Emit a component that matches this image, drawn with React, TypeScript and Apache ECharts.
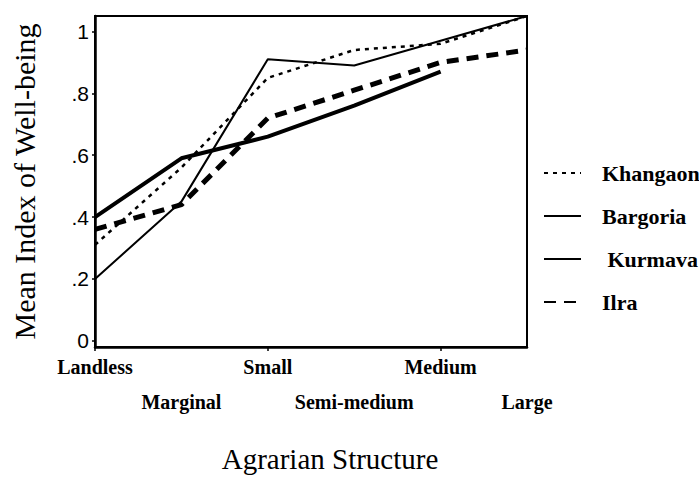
import React, { useEffect, useRef } from "react";
import * as echarts from "echarts";

const categories = ["Landless", "Marginal", "Small", "Semi-medium", "Medium", "Large"];
const khangaon = [0.31, 0.56, 0.85, 0.94, 0.96, 1.05];
const bargoria = [0.4, 0.59, 0.66, 0.76, 0.87, null];
const kurmava = [0.2, 0.45, 0.91, 0.89, 0.97, 1.05];
const ilra = [0.36, 0.44, 0.72, 0.81, 0.9, 0.94];
const yTicks = [0, 0.2, 0.4, 0.6, 0.8, 1];

const serif = "Liberation Serif";
const sans = "Liberation Sans";

export default function App() {
  const ref = useRef<HTMLDivElement>(null);
  useEffect(() => {
    if (!ref.current) return;
    const chart = echarts.init(ref.current, undefined, { renderer: "svg" });
    const mkLine = (name: string, data: (number | null)[], width: number, type: any) => ({
      name,
      type: "line",
      data,
      symbol: "none",
      smooth: false,
      connectNulls: false,
      lineStyle: { color: "#000", width, type },
      itemStyle: { color: "#000" },
    });
    const catLabel = {
      margin: 10,
      fontFamily: serif,
      fontWeight: "bold",
      fontSize: 20,
      color: "#000",
    };
    chart.setOption({
      animation: false,
      backgroundColor: "#fff",
      textStyle: { fontFamily: serif },
      grid: {
        left: 95,
        right: 172,
        top: 16,
        bottom: 136,
        show: true,
        borderColor: "#000",
        borderWidth: 2,
        backgroundColor: "transparent",
      },
      legend: {
        orient: "vertical",
        left: 538,
        top: 157,
        itemWidth: 37,
        itemHeight: 20,
        itemGap: 21,
        data: ["Khangaon", "Bargoria", "Kurmava", "Ilra"],
        itemStyle: { opacity: 0 },
        textStyle: {
          fontFamily: serif,
          fontSize: 22,
          fontWeight: "bold",
          color: "#000",
          padding: [0, 0, 0, 16],
        },
        formatter: (n: string) => (n === "Kurmava" ? " " + n : n),
      },
      xAxis: [
        {
          type: "category",
          data: categories,
          boundaryGap: false,
          axisLine: { onZero: false, lineStyle: { color: "#000", width: 2.5 } },
          axisTick: { show: true, length: 4, lineStyle: { color: "#000", width: 1.5 } },
          axisLabel: { ...catLabel, interval: (i: number) => i % 2 === 0 },
          name: "Agrarian Structure",
          nameLocation: "middle",
          nameGap: 97,
          nameTextStyle: {
            fontFamily: serif,
            fontSize: 29,
            color: "#000",
            padding: [0, 0, 0, 38],
          },
          splitLine: { show: false },
        },
        {
          type: "category",
          data: categories,
          boundaryGap: false,
          position: "bottom",
          offset: 35,
          axisLine: { show: false, onZero: false },
          axisTick: { show: false },
          axisLabel: { ...catLabel, interval: (i: number) => i % 2 === 1 },
          splitLine: { show: false },
        },
      ],
      yAxis: {
        type: "value",
        min: -0.02,
        max: 1.05,
        axisLine: { show: true, lineStyle: { color: "#000", width: 2.5 } },
        axisTick: {
          show: true,
          length: 3,
          customValues: yTicks,
          lineStyle: { color: "#000", width: 1.5 },
        },
        axisLabel: {
          customValues: yTicks,
          margin: 6,
          fontFamily: sans,
          fontSize: 21,
          color: "#000",
          formatter: (v: number) =>
            v === 0 ? "0" : v === 1 ? "1" : v.toFixed(1).replace(/^0/, ""),
        },
        splitLine: { show: false },
        name: "Mean Index of Well-being",
        nameLocation: "middle",
        nameGap: 56,
        nameTextStyle: { fontFamily: serif, fontSize: 30, color: "#000" },
      },
      series: [
        mkLine("Khangaon", khangaon, 2.5, [4, 5]),
        mkLine("Bargoria", bargoria, 4, "solid"),
        mkLine("Kurmava", kurmava, 2, "solid"),
        mkLine("Ilra", ilra, 5, [12, 8]),
      ],
    });
    return () => chart.dispose();
  }, []);
  return (
    <div
      ref={ref}
      style={{ position: "fixed", left: 0, top: 0, width: 699, height: 483 }}
    />
  );
}
